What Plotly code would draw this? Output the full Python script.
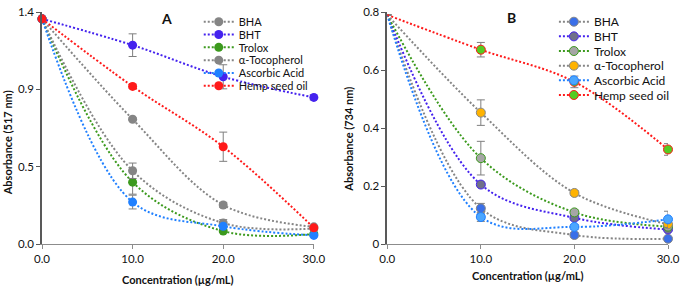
import plotly.graph_objects as go

# ---------------- data ----------------
conc = [0, 10, 20, 30]
series_names = ["BHA", "BHT", "Trolox", "α-Tocopherol", "Ascorbic Acid", "Hemp seed oil"]

# Panel A (DPPH, 517 nm)
bha_a = [1.31, 0.726, 0.227, 0.100]
bht_a = [1.31, 1.157, 0.973, 0.853]
trolox_a = [1.31, 0.360, 0.075, 0.058]
toc_a = [1.31, 0.426, 0.122, 0.090]
asc_a = [1.31, 0.244, 0.103, 0.050]
hemp_a = [1.31, 0.917, 0.566, 0.094]

bha_a_err = [0, 0.008, 0.015, 0.005]
bht_a_err = [0, 0.066, 0.070, 0.015]
trolox_a_err = [0, 0.070, 0.008, 0.005]
toc_a_err = [0, 0.045, 0.020, 0.005]
asc_a_err = [0, 0.040, 0.010, 0.005]
hemp_a_err = [0, 0.010, 0.085, 0.010]

# Panel B (ABTS, 734 nm)
bha_b = [0.79, 0.123, 0.031, 0.018]
bht_b = [0.79, 0.205, 0.090, 0.050]
trolox_b = [0.79, 0.296, 0.109, 0.060]
toc_b = [0.79, 0.453, 0.176, 0.068]
asc_b = [0.79, 0.093, 0.059, 0.085]
hemp_b = [0.79, 0.670, 0.559, 0.326]

bha_b_err = [0, 0.017, 0.008, 0.005]
bht_b_err = [0, 0.008, 0.008, 0.005]
trolox_b_err = [0, 0.058, 0.008, 0.005]
toc_b_err = [0, 0.044, 0.008, 0.005]
asc_b_err = [0, 0.015, 0.008, 0.028]
hemp_b_err = [0, 0.025, 0.020, 0.020]

x_tickvals = [0, 10, 20, 30]
x_ticktext = ["0.0", "10.0", "20.0", "30.0"]
ya_tickvals = [0, 0.45, 0.9, 1.35]
ya_ticktext = ["0.0", "0.5", "0.9", "1.4"]
yb_tickvals = [0, 0.2, 0.4, 0.6, 0.8]
yb_ticktext = ["0", "0.2", "0.4", "0.6", "0.8"]

# ---------------- styling ----------------
FONT = "Lato"
line_colors = ["#858585", "#4422EE", "#3C9A1E", "#858585", "#2080FF", "#FF1A1A"]
marker_a = ["#858585", "#4422EE", "#3C9A1E", "#858585", "#2080FF", "#FF1A1A"]
marker_b = ["#3A6FE8", "#70708A", "#A6A6A6", "#FFB300", "#4AA6FF", "#55CC22"]

vals_a = [bha_a, bht_a, trolox_a, toc_a, asc_a, hemp_a]
errs_a = [bha_a_err, bht_a_err, trolox_a_err, toc_a_err, asc_a_err, hemp_a_err]
vals_b = [bha_b, bht_b, trolox_b, toc_b, asc_b, hemp_b]
errs_b = [bha_b_err, bht_b_err, trolox_b_err, toc_b_err, asc_b_err, hemp_b_err]

W, H = 685, 288
L, R, T, B = 42, 12, 5, 44
pw, ph = W - L - R, H - T - B


def px_x(p):
    return (p - L) / pw


def px_y(p):
    return (H - B - p) / ph


DASH = "2px,2px"
SMOOTH = 1.0
fig = go.Figure()

err_style = dict(type="data", color="#7F7F7F", thickness=1, width=4, visible=True)

# Panel A traces
for i, name in enumerate(series_names):
    fig.add_trace(go.Scatter(
        x=conc, y=vals_a[i], name=name, mode="lines+markers",
        line=dict(color=line_colors[i], width=2, dash=DASH, shape="spline", smoothing=SMOOTH),
        marker=dict(color=marker_a[i], size=9, line=dict(width=0)),
        error_y=dict(array=errs_a[i], **err_style),
        xaxis="x", yaxis="y", cliponaxis=False,
        legend="legend" if i == 0 else f"legend{i + 1}",
    ))

# Panel B traces (no marker at concentration 0)
for i, name in enumerate(series_names):
    fig.add_trace(go.Scatter(
        x=conc, y=vals_b[i], name=name, mode="lines+markers", showlegend=False,
        line=dict(color=line_colors[i], width=2, dash=DASH, shape="spline", smoothing=SMOOTH),
        marker=dict(color=marker_b[i], size=9, opacity=[0, 1, 1, 1],
                    line=dict(width=1, color=line_colors[i])),
        error_y=dict(array=errs_b[i], **err_style),
        xaxis="x2", yaxis="y2", cliponaxis=False,
    ))
    # legend entry
    fig.add_trace(go.Scatter(
        x=[None], y=[None], name=name, mode="lines+markers",
        line=dict(color=line_colors[i], width=2, dash=DASH),
        marker=dict(color=marker_b[i], size=9, line=dict(width=1, color=line_colors[i])),
        xaxis="x2", yaxis="y2", legend=f"legend{i + 7}",
    ))

layout_legends = {}
for i in range(6):
    key = "legend" if i == 0 else f"legend{i + 1}"
    layout_legends[key] = dict(
        x=px_x(200), y=px_y(15 + 13.2 * i), xanchor="left", yanchor="middle",
        bgcolor="rgba(0,0,0,0)", borderwidth=0,
        font=dict(family=FONT, size=11, color="#111"), itemwidth=30,
    )
    layout_legends[f"legend{i + 7}"] = dict(
        x=px_x(558), y=px_y(15 + 15.1 * i), xanchor="left", yanchor="middle",
        bgcolor="rgba(0,0,0,0)", borderwidth=0,
        font=dict(family=FONT, size=12, color="#111"), itemwidth=30,
    )

axis_common = dict(showgrid=False, zeroline=False, showline=True, ticks="outside",
                   ticklen=4, tickwidth=1, ticklabeloverflow="allow",
                   tickfont=dict(family=FONT, size=11.5, color="#111"))

fig.update_layout(
    width=W, height=H, margin=dict(l=L, r=R, t=T, b=B),
    plot_bgcolor="white", paper_bgcolor="white",
    font=dict(family=FONT, size=11, color="#111"),
    xaxis=dict(domain=[0, px_x(316)], range=[0, 30], tickvals=x_tickvals, ticktext=x_ticktext,
               linecolor="#8C8C8C", tickcolor="#8C8C8C", anchor="y", **axis_common),
    yaxis=dict(domain=[0, 1], range=[0, 1.35], tickvals=ya_tickvals, ticktext=ya_ticktext,
               linecolor="#595959", tickcolor="#595959", linewidth=1.5, anchor="x",
               **axis_common),
    xaxis2=dict(domain=[px_x(390), 1], range=[0, 30], tickvals=x_tickvals, ticktext=x_ticktext,
                linecolor="#8C8C8C", tickcolor="#8C8C8C", anchor="y2", **axis_common),
    yaxis2=dict(domain=[0, 1], range=[0, 0.8], tickvals=yb_tickvals, ticktext=yb_ticktext,
                linecolor="#595959", tickcolor="#595959", linewidth=1.5, anchor="x2",
                **axis_common),
    **layout_legends,
)

title_font = dict(family=FONT, size=11, color="#111")
annotations = [
    dict(text="<b>A</b>", x=px_x(167), y=px_y(12), font=dict(family=FONT, size=14, color="#111")),
    dict(text="<b>B</b>", x=px_x(515), y=px_y(11), font=dict(family=FONT, size=14, color="#111")),
    dict(text="<b>Concentration (µg/mL)</b>", x=px_x(179), y=px_y(281), font=title_font),
    dict(text="<b>Concentration (µg/mL)</b>", x=px_x(531.5), y=px_y(276.5), font=title_font),
    dict(text="<b>Absorbance (517 nm)</b>", x=px_x(7), y=px_y(140), textangle=-90, font=title_font),
    dict(text="<b>Absorbance (734 nm)</b>", x=px_x(351), y=px_y(136), textangle=-90, font=title_font),
]
for a in annotations:
    fig.add_annotation(xref="paper", yref="paper", showarrow=False, xanchor="center",
                       yanchor="middle", **a)

fig.write_html(
    "out.html",
    config={"displayModeBar": False},
    post_script="document.body.style.margin='0';document.body.style.overflow='hidden';",
)
